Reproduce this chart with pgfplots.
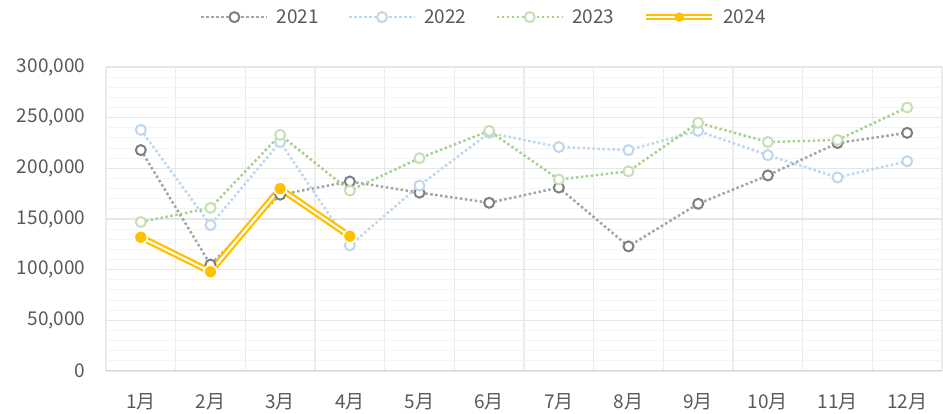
\documentclass[border=0pt]{standalone}
\usepackage{fontspec}
\setmainfont{Noto Sans CJK SC}
\usepackage{pgfplots}
\pgfplotsset{compat=1.18}
\definecolor{txt}{HTML}{595959}
\definecolor{c21}{HTML}{A5A5A5}
\definecolor{c21m}{HTML}{7F7F7F}
\definecolor{c22}{HTML}{BDD7EE}
\definecolor{c23}{HTML}{A9D18E}
\definecolor{c23m}{HTML}{C5E0B4}
\definecolor{c24}{HTML}{FFC000}
\definecolor{gvert}{HTML}{EBEBEB}
\definecolor{gmaj}{HTML}{E6E6E6}
\definecolor{gmin}{HTML}{F4F4F4}
\definecolor{gbase}{HTML}{D9D9D9}
\begin{document}
\begin{tikzpicture}
\begin{axis}[
  name=ax,
  width=836pt, height=304pt, scale only axis,
  xmin=0.5, xmax=12.5, ymin=0, ymax=300000,
  xtick={1,2,3,4,5,6,7,8,9,10,11,12},
  xticklabels={1月,2月,3月,4月,5月,6月,7月,8月,9月,10月,11月,12月},
  minor xtick={0.5,1.5,2.5,3.5,4.5,5.5,6.5,7.5,8.5,9.5,10.5,11.5,12.5},
  ytick={0,50000,100000,150000,200000,250000,300000},
  minor ytick={10000,20000,30000,40000,60000,70000,80000,90000,110000,120000,130000,140000,160000,170000,180000,190000,210000,220000,230000,240000,260000,270000,280000,290000},
  xminorgrids, ymajorgrids, yminorgrids,
  minor x grid style={gvert, line width=1.3pt},
  major y grid style={gmaj, line width=1.3pt},
  minor y grid style={gmin, line width=1pt},
  major tick length=0pt, minor tick length=0pt,
  axis line style={draw=none},
  scaled y ticks=false,
  /pgf/number format/.cd, fixed, 1000 sep={,}, assume math mode=true, /pgfplots/.cd,
  tick label style={font=\fontsize{19}{22}\selectfont, text=txt},
  xticklabel style={yshift=-19pt},
  yticklabel style={xshift=-17pt},
  legend style={at={(0.452,1.164)}, anchor=center, legend columns=-1, draw=none, fill=none,
    font=\fontsize{19}{22}\selectfont, text=txt,
    /tikz/every odd column/.append style={column sep=6pt},
    /tikz/every even column/.append style={column sep=27pt}},
  legend image code/.code={\draw[mark repeat=2,mark phase=2,#1] plot coordinates {(0pt,0pt)(33pt,0pt)(66pt,0pt)};},
]
\draw[gbase, line width=1.5pt] (axis cs:0.5,0) -- (axis cs:12.5,0);
% 2021
\addplot[c21, line width=2.5pt, dash pattern=on 2.5pt off 2.5pt, mark=*, mark size=5pt,
  mark options={solid, draw=c21m, fill=white, line width=2pt}] coordinates {
(1,218000) (2,105000) (3,174000) (4,187000) (5,176000) (6,166000)
(7,181000) (8,123000) (9,165000) (10,193000) (11,225000) (12,235000)};
\addlegendentry{2021}
% 2022
\addplot[c22, line width=2.5pt, dash pattern=on 2.5pt off 2.5pt, mark=*, mark size=5pt,
  mark options={solid, draw=c22, fill=white, line width=2pt}] coordinates {
(1,238000) (2,144000) (3,226000) (4,124000) (5,183000) (6,235000)
(7,221000) (8,218000) (9,237000) (10,213000) (11,191000) (12,207000)};
\addlegendentry{2022}
% 2023
\addplot[c23, line width=2.5pt, dash pattern=on 2.5pt off 2.5pt, mark=*, mark size=5pt,
  mark options={solid, draw=c23m, fill=white, line width=2pt}] coordinates {
(1,147000) (2,161000) (3,233000) (4,178000) (5,210000) (6,237000)
(7,189000) (8,197000) (9,245000) (10,226000) (11,228000) (12,260000)};
\addlegendentry{2023}
% 2024
\addplot[c24, line width=2.3pt, double=white, double distance=2pt, forget plot] coordinates {
(1,132000) (2,98000) (3,180000) (4,133000)};
\addplot[only marks, mark=*, mark size=6.5pt, mark options={draw=white, fill=c24, line width=1.5pt},
  legend image code/.code={\draw[c24, line width=2.2pt, double=white, double distance=1.8pt] (0pt,0pt)--(66pt,0pt); \fill[c24] (33pt,0pt) circle (4.5pt);}] coordinates {
(1,132000) (2,98000) (3,180000) (4,133000)};
\addlegendentry{2024}
\end{axis}
\pgfresetboundingbox
\path ([shift={(-106pt,-43pt)}]ax.south west) rectangle ([shift={(1pt,67pt)}]ax.north east);
\end{tikzpicture}
\end{document}
